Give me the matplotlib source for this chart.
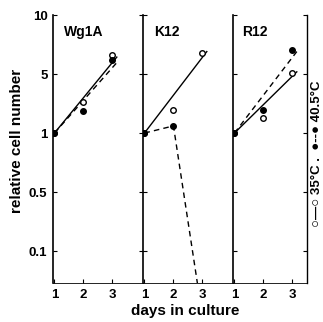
import numpy as np
import matplotlib
matplotlib.use("Agg")
import matplotlib.pyplot as plt

plt.rcParams['font.family'] = ['Liberation Sans', 'DejaVu Sans']

# data (relative cell number, log axis)
days = [1, 2, 3]
panels = ["Wg1A", "K12", "R12"]
open_35 = [[1, 1.83, 4.58], [1, 1.57, 4.76], [1, 1.34, 3.22]]
filled_40 = [[1, 1.54, 4.16], [1, 1.15, 0.028], [1, 1.57, 5.05]]
# drawn trend lines: start and end points
fit_days = [1, 3.15]
fit_35 = [[1, 4.4], [1, 4.9], [1, 3.3]]
fit_40 = [[1, 3.95], None, [1, 4.9]]

yticks = [0.1, 10 ** -0.5, 1, 10 ** 0.5, 10]
ytick_labels = ["0.1", "0.5", "1", "5", "10"]

fig = plt.figure(figsize=(3.23, 3.22), dpi=100)
H = 322.0
W = 323.0
left_px = [53, 143, 233]
width_px = [90, 90, 74]
bottom = (H - 283) / H
height = (283 - 15) / H
px_per_day = 29.0

for i, name in enumerate(panels):
    ax = fig.add_axes([left_px[i] / W, bottom, width_px[i] / W, height])
    ax.set_yscale('log')
    ax.set_ylim(10 ** -1.27, 10)
    ax.set_xlim(0.95, 0.95 + width_px[i] / px_per_day)

    if fit_35[i] is not None:
        ax.plot(fit_days, fit_35[i], color='black', lw=1.0, zorder=2)
    if fit_40[i] is not None:
        ax.plot(fit_days, fit_40[i], color='black', lw=1.0, ls=(0, (4, 3)), zorder=2)
    else:
        ax.plot(days, filled_40[i], color='black', lw=1.0, ls=(0, (4, 3)), zorder=2)

    ax.plot(days, open_35[i], 'o', ms=4, mfc='white', mec='black', mew=1.0, zorder=3)
    ax.plot(days, filled_40[i], 'o', ms=4, mfc='black', mec='black', zorder=3)

    ax.text(0.12, 0.935, name, transform=ax.transAxes, fontsize=10,
            fontweight='bold', ha='left', va='center')

    for s in ['top', 'right']:
        ax.spines[s].set_visible(False)
    ax.spines['left'].set_linewidth(1.2)
    ax.spines['bottom'].set_linewidth(0.6)

    ax.set_xticks(days)
    ax.set_xticklabels(["1", "2", "3"], fontsize=9.5, fontweight='bold')
    ax.tick_params(axis='x', direction='in', length=3, width=0.8, pad=4)
    ax.minorticks_off()
    ax.set_yticks(yticks)
    if i == 0:
        ax.set_yticklabels(ytick_labels, fontsize=9.5, fontweight='bold')
        ax.tick_params(axis='y', direction='in', length=3, width=0.8, pad=4)
    else:
        ax.set_yticklabels([])
        ax.tick_params(axis='y', direction='inout', length=6, width=0.8)
    if i == 2:
        ax.spines['right'].set_visible(True)
        ax.spines['right'].set_linewidth(1.0)
        ax.tick_params(axis='y', right=True, direction='in', length=3)
        ax.tick_params(axis='y', which='major', left=True)
    ax.minorticks_off()

fig.text(17 / W, 1 - 141 / H, "relative cell number", rotation=90,
         ha='center', va='center', fontsize=11, fontweight='bold')
fig.text(185 / W, 1 - 311 / H, "days in culture",
         ha='center', va='center', fontsize=11, fontweight='bold')
fig.text(317 / W, 1 - 154 / H, "○—○ 35°C .  ●--● 40.5°C", rotation=90,
         ha='center', va='center', fontsize=9.5, fontweight='bold')

fig.savefig("out.png", dpi=100)
